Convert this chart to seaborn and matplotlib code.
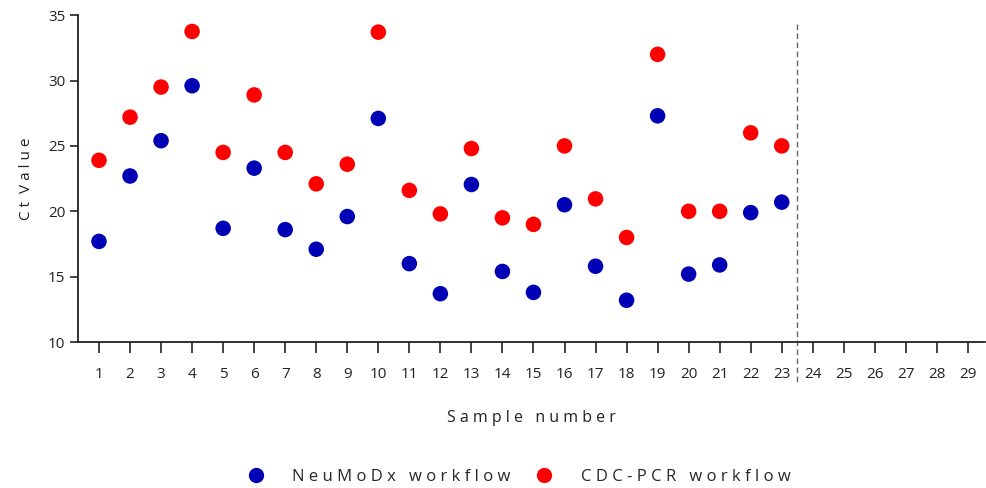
import numpy as np
import pandas as pd
import matplotlib
matplotlib.use('Agg')
import matplotlib.pyplot as plt
import seaborn as sns

# sample numbers and Ct values
samples = list(range(1, 24))
neumodx = [17.7, 22.7, 25.4, 29.6, 18.7, 23.3, 18.6, 17.1, 19.6, 27.1, 16.0, 13.7,
           22.05, 15.4, 13.8, 20.5, 15.8, 13.2, 27.3, 15.2, 15.9, 19.9, 20.7]
cdc_pcr = [23.9, 27.2, 29.5, 33.75, 24.5, 28.9, 24.5, 22.1, 23.6, 33.7, 21.6, 19.8,
           24.8, 19.5, 19.0, 25.0, 20.95, 18.0, 32.0, 20.0, 20.0, 26.0, 25.0]
series_names = ['NeuMoDx workflow', 'CDC-PCR workflow']
series_colors = ['#0000b4', '#ff0000']
x_ticks = list(range(1, 30))
y_ticks = [10, 15, 20, 25, 30, 35]
cutoff = 23.5

df = pd.DataFrame({
    'sample': samples * 2,
    'ct': neumodx + cdc_pcr,
    'workflow': [series_names[0]] * len(samples) + [series_names[1]] * len(samples),
})


def spaced(text):
    # imitate the wide letter spacing of the original
    return ' '.join(text)


sns.set_style('white')
plt.rcParams['font.family'] = ['Open Sans', 'DejaVu Sans']

fig = plt.figure(figsize=(9.86, 4.88), dpi=100)
ax = fig.add_axes([0.079, 0.299, 0.92, 0.67])

sns.scatterplot(data=df, x='sample', y='ct', hue='workflow', hue_order=series_names,
                palette=series_colors, s=125, edgecolor='none', linewidth=0,
                legend=False, ax=ax, clip_on=False, zorder=3)

# dashed separator between sample 23 and 24
ax.plot([cutoff, cutoff], [34.3, 6.7], color='#666666', lw=1, ls=(0, (4, 2.5)),
        clip_on=False, zorder=2)

ax.set_xlim(0.32, 29.55)
ax.set_ylim(10, 35)
ax.set_xticks(x_ticks)
ax.set_yticks(y_ticks)
sns.despine(ax=ax)
for sp in ['left', 'bottom']:
    ax.spines[sp].set_color('#222222')
    ax.spines[sp].set_linewidth(1.3)
ax.tick_params(axis='x', bottom=True, direction='out', length=8, width=1.2, color='#222222',
               labelsize=11, pad=10, labelcolor='#222222')
ax.tick_params(axis='y', left=True, direction='out', length=6, width=1.2, color='#222222',
               labelsize=11, pad=3, labelcolor='#222222')

ax.set_xlabel(spaced('Sample') + '   ' + spaced('number'), fontsize=11.5,
              color='#222222', labelpad=20)
ax.set_ylabel('C t  V a l u e', fontsize=11, color='#222222', labelpad=10)

handles = [plt.Line2D([], [], marker='o', ls='', ms=11, color=c, markeredgewidth=0)
           for c in series_colors]
labels = [spaced('NeuMoDx') + '   ' + spaced('workflow'),
          spaced('CDC-PCR') + '   ' + spaced('workflow')]
fig.legend(handles, labels, loc='lower center', bbox_to_anchor=(0.522, -0.025), ncol=2,
           frameon=False, handletextpad=1.2, columnspacing=1.0, prop={'size': 12})

fig.savefig('out.png', dpi=100)
